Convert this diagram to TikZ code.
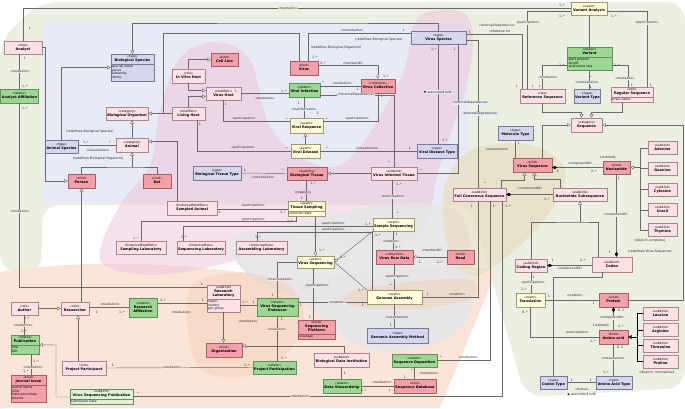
\documentclass[tikz,border=0pt]{standalone}
\usepackage{fontspec}
\setmainfont{DejaVu Sans}
\usetikzlibrary{arrows.meta,positioning,calc,shapes.multipart}
\definecolor{kindfill}{RGB}{243,160,170}
\definecolor{kinddraw}{RGB}{160,95,105}
\definecolor{rolefill}{RGB}{252,226,231}
\definecolor{roledraw}{RGB}{175,130,140}
\definecolor{relfill}{RGB}{158,214,148}
\definecolor{reldraw}{RGB}{95,145,90}
\definecolor{evfill}{RGB}{255,251,218}
\definecolor{evdraw}{RGB}{160,155,110}
\definecolor{typefill}{RGB}{214,214,238}
\definecolor{typedraw}{RGB}{120,120,155}
\definecolor{pubfill}{RGB}{226,240,216}
\definecolor{lncol}{RGB}{105,105,105}
\definecolor{bggreen}{RGB}{235,240,227}
\definecolor{bglav}{RGB}{232,234,246}
\definecolor{bgpink}{RGB}{238,196,218}
\definecolor{bggray}{RGB}{230,230,232}
\definecolor{bgpeach}{RGB}{251,229,216}
\definecolor{bgtan}{RGB}{232,222,196}
\definecolor{bgorange}{RGB}{244,205,180}
\newcommand{\st}[1]{{\fontsize{3.1}{3.7}\selectfont\textless\textless #1\textgreater\textgreater}}
\newcommand{\ttl}[1]{{\fontsize{3.5}{4}\selectfont\bfseries #1}}
\newcommand{\hd}[2]{\begin{tabular}{@{}c@{}}\st{#1}\\\ttl{#2}\end{tabular}}
\newcommand{\hdd}[3]{\begin{tabular}{@{}c@{}}\st{#1}\\\ttl{#2}\\\ttl{#3}\end{tabular}}
\newcommand{\att}[1]{{\fontsize{3.1}{3.7}\selectfont\begin{tabular}{@{}l@{}}#1\end{tabular}}}
\newcounter{lb}
\newcommand{\lab}[3][]{\stepcounter{lb}\node[lbl,#1] (lab\thelb) at (#2) {#3};}
\tikzset{
  box/.style={draw=#1, line width=0.55pt, inner sep=0.7pt, font=\fontsize{3.4}{3.9}\selectfont},
  kindbox/.style={box=kinddraw, fill=kindfill},
  rolebox/.style={box=roledraw, fill=rolefill},
  relbox/.style={box=reldraw, fill=relfill},
  evbox/.style={box=evdraw, fill=evfill},
  typebox/.style={box=typedraw, fill=typefill},
  pubbox/.style={box=reldraw, fill=pubfill},
  split/.style={rectangle split, rectangle split parts=2, rectangle split part align={center,left}, anchor=north},
  ln/.style={draw=lncol, line width=0.45pt},
  gen/.style={ln, -{Triangle[length=3.4pt, width=4pt, fill=white]}},
  comp/.style={ln, {Diamond[length=5pt, width=3.2pt, color=black]}-},
  agg/.style={ln, {Diamond[length=5pt, width=3.2pt, fill=white]}-},
  lbl/.style={font=\fontsize{3.2}{3.6}\selectfont, inner sep=0.3pt, text=black!85},
}
\begin{document}
\begin{tikzpicture}[x=1pt,y=-1pt]
\useasboundingbox (0,0) rectangle (685,408);
% background areas
\fill[bggreen, rounded corners=18pt] (0,272) -- (0,40) -- (40,2) -- (685,2) -- (685,388) -- (525,397) -- (498,300) -- (470,205) -- (42,205) -- (42,272) -- cycle;
\fill[bglav, rounded corners=5pt] (42,22) rectangle (468,203);
\fill[bgpeach] (0,408) -- (0,272) .. controls (90,258) and (200,262) .. (300,282) .. controls (380,268) and (460,262) .. (497,270) -- (440,408) -- cycle;
\fill[bgpink, opacity=0.5] plot[smooth cycle, tension=0.6] coordinates {(100,250) (120,205) (150,165) (160,110) (180,58) (215,42) (250,60) (275,135) (340,165) (400,80) (418,18) (466,15) (470,70) (440,165) (420,232) (360,244) (300,238) (230,262) (160,275) (110,268)};
\fill[bggray, opacity=0.9] plot[smooth cycle, tension=0.6] coordinates {(232,238) (300,224) (380,205) (455,210) (472,262) (468,318) (425,347) (360,346) (300,300) (248,275)};
\fill[bgtan, opacity=0.75] plot[smooth cycle, tension=0.6] coordinates {(445,185) (472,150) (530,145) (565,170) (548,215) (500,262) (468,275) (446,240)};
\fill[bgorange, opacity=0.45] plot[smooth cycle, tension=0.6] coordinates {(193,285) (240,273) (292,288) (302,330) (262,372) (205,372) (188,330)};
\fill[bgorange, opacity=0.45] plot[smooth cycle, tension=0.6] coordinates {(350,292) (410,282) (470,280) (472,298) (420,308) (352,306)};

% species and organisms
\node[rolebox, minimum width=38, minimum height=13] (analyst) at (23,47.5) {\hd{role}{Analyst}};
\node[relbox, minimum width=38, minimum height=14] (anaff) at (19.5,96) {\hd{relator}{Analyst Affiliation}};
\node[typebox, split, minimum width=43] (biospec) at (132.5,54) {\hd{type}{Biological Species}\nodepart{two}\att{species name\\genus\\subfamily\\family}};
\node[rolebox, minimum width=42, minimum height=13] (bioorg) at (127,113.5) {\hd{category}{\itshape Biological Organism}};
\node[typebox, minimum width=33, minimum height=13] (anispec) at (61.5,146.5) {\hd{type}{Animal Species}};
\node[rolebox, minimum width=32, minimum height=14] (animal) at (132,145) {\hd{category}{\itshape Animal}};
\node[kindbox, minimum width=27, minimum height=14] (person) at (81.5,181) {\hd{kind}{Person}};
\node[kindbox, minimum width=28, minimum height=14] (bat) at (157,181) {\hd{kind}{Bat}};
\node[rolebox, minimum width=50, minimum height=13] (samplab) at (141,247.5) {\hd{historicalRoleMixin}{Sampling Laboratory}};
% hosts and virus
\node[kindbox, minimum width=27, minimum height=13] (cellline) at (224.5,59.5) {\hd{kind}{Cell Line}};
\node[rolebox, minimum width=33, minimum height=14] (invitro) at (188.5,76) {\hd{role}{In Vitro Host}};
\node[rolebox, minimum width=35, minimum height=13] (virushost) at (223.5,93.5) {\hd{roleMixin}{Virus Host}};
\node[rolebox, minimum width=33, minimum height=13] (livinghost) at (188.5,113.5) {\hd{roleMixin}{Living Host}};
\node[kindbox, minimum width=28, minimum height=14] (virus) at (304,68) {\hd{kind}{Virus}};
\node[relbox, minimum width=31, minimum height=14] (viralinf) at (304.5,90) {\hd{relator}{Viral Infection}};
\node[evbox, minimum width=33, minimum height=15] (viralresp) at (306.5,125.5) {\hd{event}{Viral Response}};
\node[typebox, minimum width=55, minimum height=13] (virusspec) at (438.5,37.5) {\hd{type}{Virus Species}};
\node[kindbox, minimum width=34, minimum height=14] (viruscoll) at (378,86) {\hd{collection}{Virus Collective}};
\node[evbox, minimum width=29, minimum height=14] (viraldis) at (305.5,151) {\hd{event}{Viral Disease}};
\node[typebox, minimum width=40, minimum height=14] (vdtype) at (437,151) {\hd{type}{Viral Disease Type}};
% tissue and sequencing
\node[typebox, minimum width=48, minimum height=14] (tissuetype) at (217,173) {\hd{type}{Biological Tissue Type}};
\node[kindbox, minimum width=40, minimum height=13] (tissue) at (307,173.5) {\hd{quantity}{Biological Tissue}};
\node[rolebox, minimum width=46, minimum height=13] (vitissue) at (394,173.5) {\hd{subkind}{Virus Infected Tissue}};
\node[evbox, split, minimum width=37] (tsampling) at (306.5,201) {\hd{event}{Tissue Sampling}\nodepart{two}\att{collection date}};
\node[rolebox, minimum width=50, minimum height=14] (sampanimal) at (192,208) {\hd{historicalRoleMixin}{Sampled Animal}};
\node[rolebox, minimum width=48, minimum height=13] (seqlab) at (201,247.5) {\hd{historicalRole}{Sequencing Laboratory}};
\node[rolebox, minimum width=51, minimum height=13] (asmlab) at (261.5,247.5) {\hd{historicalRole}{Assembling Laboratory}};
\node[evbox, minimum width=41, minimum height=13] (sampseq) at (393.5,224.5) {\hd{event}{Sample Sequencing}};
\node[evbox, minimum width=37, minimum height=12] (virusseqg) at (315.5,262) {\hd{event}{Virus Sequencing}};
\node[kindbox, minimum width=37, minimum height=14] (rawdata) at (394.5,257) {\hd{collection}{Virus Raw Data}};
\node[kindbox, minimum width=27, minimum height=14] (read) at (460.5,257) {\hd{kind}{Read}};
% sequences
\node[rolebox, minimum width=53, minimum height=13] (fcs) at (479.5,194.5) {\hd{subkind}{Full Consensus Sequence}};
\node[typebox, minimum width=35, minimum height=14] (moltype) at (515.5,133) {\hd{type}{Molecule Type}};
\node[kindbox, minimum width=39, minimum height=14] (vseq) at (532.5,165) {\hd{kind}{Virus Sequence}};
\node[kindbox, minimum width=27, minimum height=13] (nucleotide) at (616.5,167.5) {\hd{kind}{Nucleotide}};
\foreach \n/\t/\y in {adenine/Adenine/148, guanine/Guanine/168.5, cytosine/Cytosine/189.5, uracil/Uracil/210, thymine/Thymine/230}
  \node[rolebox, minimum width=29, minimum height=13] (\n) at (662.5,\y) {\hd{subkind}{\t}};
\node[rolebox, minimum width=54, minimum height=13] (nsub) at (580,194.5) {\hd{subkind}{Nucleotide Subsequence}};
\node[rolebox, minimum width=32, minimum height=13] (codreg) at (531,265.5) {\hd{subkind}{Coding Region}};
\node[rolebox, minimum width=40, minimum height=15] (codon) at (612,264.5) {\hd{subkind}{Codon}};
\node[kindbox, minimum width=29, minimum height=14] (protein) at (613.5,300) {\hd{kind}{Protein}};
\node[evbox, minimum width=29, minimum height=14] (translation) at (530.5,300) {\hd{event}{Translation}};
\node[kindbox, minimum width=29, minimum height=14] (aminoacid) at (613.5,337) {\hd{kind}{Amino acid}};
\foreach \n/\t/\y in {leucine/Leucine/313.5, arginine/Arginine/330, threonine/Threonine/345.5, proline/Proline/361.5}
  \node[rolebox, minimum width=35, minimum height=13] (\n) at (660.5,\y) {\hd{subkind}{\t}};
\node[typebox, minimum width=36, minimum height=13] (aatype) at (614,382.5) {\hd{type}{Amino Acid Type}};
\node[typebox, minimum width=27, minimum height=13] (codontype) at (553.5,382.5) {\hd{type}{Codon Type}};
% variants
\node[evbox, minimum width=36, minimum height=13] (varanalysis) at (589,8.5) {\hd{event}{Variant Analysis}};
\node[relbox, split, minimum width=45] (variant) at (589.5,47) {\hd{relator}{Variant}\nodepart{two}\att{-start position\\-length\\-alternative seq}};
\node[rolebox, minimum width=45, minimum height=14] (refseq) at (542.5,96) {\hd{role}{Reference Sequence}};
\node[typebox, minimum width=25, minimum height=14] (vartype) at (587.5,96) {\hd{type}{Variant Type}};
\node[rolebox, split, minimum width=42] (regseq) at (632,87) {\hd{role}{Regular Sequence}\nodepart{two}\att{strain name}};
\node[rolebox, minimum width=31, minimum height=14] (sequence) at (586.5,125) {\hd{category}{\itshape Sequence}};
% researchers and data
\node[rolebox, minimum width=27, minimum height=13] (author) at (24.5,308.5) {\hd{role}{Author}};
\node[rolebox, minimum width=28, minimum height=13] (researcher) at (75,308.5) {\hd{role}{Researcher}};
\node[relbox, minimum width=28, minimum height=19] (resaff) at (143,307.5) {\hdd{relator}{Research}{Affiliation}};
\node[relbox, split, minimum width=28] (publication) at (25,335) {\hd{relator}{Publication}\nodepart{two}\att{Title\\DOI}};
\node[kindbox, split, minimum width=35] (journal) at (28.5,375) {\hd{kind}{Journal Issue}\nodepart{two}\att{Journal Name\\ISSN\\Publication Date\\Volume}};
\node[pubbox, split, minimum width=63] (vsp) at (101.5,389) {\hd{subkind}{Virus Sequencing Publication}\nodepart{two}\att{Submission Date}};
\node[rolebox, minimum width=44, minimum height=14] (projpart) at (84,368) {\hd{role}{Project Participant}};
\node[relbox, minimum width=43, minimum height=13] (projparticip) at (274.5,367.5) {\hd{relator}{Project Participation}};
\node[rolebox, split, minimum width=33] (reslab) at (223.5,285) {\hdd{subkind}{Research}{Laboratory}\nodepart{two}\att{region\\country\\gen group}};
\node[relbox, minimum width=41, minimum height=18] (vse) at (277.5,307) {\hdd{relator}{Virus Sequencing}{Endeavor}};
\node[kindbox, minimum width=36, minimum height=14] (organization) at (224,350) {\hd{kind}{Organization}};
\node[kindbox, split, minimum width=37] (seqplatform) at (316.5,320) {\hdd{kind}{Sequencing}{Platform}\nodepart{two}\att{coverage}};
\node[evbox, minimum width=55, minimum height=14] (genasm) at (394.5,297) {\hd{event}{Genome Assembly}};
\node[typebox, minimum width=61, minimum height=15] (genmethod) at (397.5,335.5) {\hd{type}{Genomic Assembly Method}};
\node[rolebox, minimum width=55, minimum height=14] (bdi) at (341.5,360) {\hd{subkind}{Biological Data Institution}};
\node[relbox, minimum width=38, minimum height=14] (datastew) at (342,386) {\hd{relator}{Data Stewardship}};
\node[relbox, minimum width=45, minimum height=13] (seqdep) at (414.5,360.5) {\hd{relator}{Sequence Deposition}};
\node[kindbox, minimum width=42, minimum height=14] (seqdb) at (415,386) {\hd{kind}{Sequence Database}};

% analyst
\draw[ln] (analyst.north) |- (varanalysis.west);
\lab[fill=bggreen]{288,8.5}{\st{mediation}} \lab{30,28}{1} \lab{562,5}{1..*}
\draw[ln] (analyst.south -| anaff.north) -- (anaff.north);
\lab{25,58}{1} \lab[fill=bggreen]{20,71}{\st{mediation}} \lab{25,86}{1..*}
\draw[ln] (anaff.south) |- (reslab.west |- 0,287);
\lab{25,108}{1..*} \lab[fill=bggreen]{20,211}{\st{mediation}} \lab{202,284}{1}
\draw[gen] (analyst.east) -- ++(3,0) |- (person.west);
% organisms
\draw[gen] (anispec.north) |- (biospec.west);
\lab{90,132}{(redefines Biological Species)}
\draw[ln] (animal.west -| anispec.east) -- (animal.west);
\lab{86,142}{1..*} \lab{110,142}{*} \lab{98,150.5}{\st{instantiation}}
\draw[gen] (animal.north) -- (animal.north |- bioorg.south);
\lab{98,159}{(redefines Biological Organism)}
\coordinate (anij) at (animal.south |- 0,167);
\draw[ln] (person.north) |- (anij) -| (bat.north);
\draw[gen] (anij) -- (animal.south);
\draw[gen] ($(sampanimal.north)+(-15,0)$) |- ($(animal.east)+(0,-3.5)$);
\draw[gen] ($(virus.north)+(-5,0)$) |- (163,33) |- (bioorg.east);
\draw[ln] (livinghost.west) -- (livinghost.west -| 163,0);
\draw[gen] (virusspec.north) |- (300,23) -| (biospec.north);
\draw[ln] ($(virus.north)+(4,0)$) |- ($(virusspec.west)+(0,-4)$);
\lab{352,30}{\st{instantiation}} \lab{404,30}{1} \lab{315,57}{1..*}
\lab{336,48}{(redefines Biological Organism)} \lab{379,40}{(redefines Biological Species)}
% hosts
\draw[gen] (invitro.north) |- (cellline.west);
\draw[gen] (invitro.south) |- ($(virushost.west)+(0,-3)$);
\draw[gen] (livinghost.north) |- ($(virushost.west)+(0,3)$);
\draw[ln] (virushost.east) -- (virushost.east -| viralinf.west);
\lab{236,91}{1} \lab{284,91}{1..*} \lab{265,98.5}{\st{mediation}}
\draw[ln] (virushost.south) |- ($(viralresp.west)+(0,-4)$);
\lab{226,104}{1} \lab{244,119}{\st{participation}} \lab{287,119}{*}
\draw[ln] (viralinf.south) -- (viralinf.south |- viralresp.north);
\lab{299,103}{1} \lab[fill=bglav]{304,109}{\st{manifestation}} \lab{318,113}{1}
\draw[gen] (viraldis.north) -- (viraldis.north |- viralresp.south);
\draw[ln] (viruscoll.west -| viralinf.east) -- (viruscoll.west);
\lab{323,82}{*} \lab{342,83}{\st{mediation}} \lab{358,89}{1}
\draw[agg] (viruscoll.north) |- ($(virus.east)+(0,-3)$);
\lab{323,63}{2..*} \lab{353,63}{\st{memberOf}} \lab{386,76}{1..*}
\draw[ln] ($(viralinf.east)+(0,5)$) -| (vitissue.north);
\lab[fill=bglav]{356,95}{\st{historicalDependence}} \lab{389,162}{*}
\draw[ln] (viruscoll.south) |- ($(viralresp.east)+(0,-4)$);
\lab{382,96}{1} \lab{357,118.5}{\st{participation}} \lab{327,119}{*}
\draw[ln] ($(livinghost.south)+(8.5,0)$) |- (viraldis.west);
\lab{200,124}{1} \lab{243,148}{\st{participation}} \lab{287,148}{*}
% tissue
\draw[ln] (tissuetype.east) -- (tissue.west);
\lab{245,170}{1} \lab{283,170}{*} \lab{263,177}{\st{instantiation}}
\draw[gen] (vitissue.west) -- (tissue.east);
\draw[ln] (viraldis.east) -- (vdtype.west);
\lab{327,148}{*} \lab{367,148}{\st{instantiation}} \lab{410,148}{1}
\draw[ln] (virusspec.south) -- (virusspec.south |- vdtype.north);
\lab{434,49}{1..*} \lab{445,140}{1..*} \lab[fill=bglav]{438,92}{▼ associated with}
\draw[ln] ($(virusspec.south)+(20,0)$) |- (vitissue.east);
\lab{455,49}{1} \lab{421,170}{*}
\draw[ln] ($(virusspec.east)+(0,-3)$) -| ($(refseq.north)+(-20.5,0)$);
\lab{470,32}{1} \lab{497,26}{\st{externalDependence}} \lab{500,31}{reference for} \lab{517,86}{1}
\draw[ln] ($(virusspec.east)+(0,3)$) -| ($(fcs.north)+(-1.5,0)$);
\lab[fill=bglav]{470,103}{\st{externalDependence}} \lab[fill=bglav]{480,114}{\st{externalDependence}} \lab{485,183}{*}
% sequences
\draw[ln] (moltype.south) -- (moltype.south |- vseq.north);
\lab{519,143}{1} \lab{497,149}{\st{instantiation}}
\draw[gen] ($(vseq.north)+(10,0)$) |- (sequence.west);
\draw[gen] (protein.east) -| (683,125) -- (sequence.east);
\draw[gen] (refseq.south) |- ($(sequence.north)+(-5,-6)$) -- ($(sequence.north)+(-5,0)$);
\draw[gen] ($(regseq.south)+(-10,0)$) |- ($(sequence.north)+(5,-6)$) -- ($(sequence.north)+(5,0)$);
\draw[ln] (varanalysis.south) -- (varanalysis.south |- variant.north);
\draw[ln] ($(varanalysis.west)+(0,3)$) -| ($(refseq.north)+(-15,0)$);
\lab{562,16}{1..*} \lab[fill=bggreen]{528,23}{\st{participation}} \lab{533,86}{1}
\draw[ln] ($(varanalysis.east)+(0,3)$) -| ($(regseq.north)+(15,0)$);
\lab{614,16}{1..*} \lab[fill=bggreen]{647,23}{\st{participation}} \lab{651,85}{1}
\draw[ln] ($(variant.west)+(0,7)$) -| (refseq.north);
\lab{562,65}{1..*} \lab[fill=bggreen]{548,77}{\st{mediation}} \lab{540,86}{1}
\draw[ln] ($(variant.east)+(0,7)$) -| ($(regseq.north)+(-4,0)$);
\lab{617,65}{1..*} \lab[fill=bggreen]{625,78}{\st{mediation}} \lab{632,85}{1}
\draw[ln] (variant.south) -- (variant.south |- vartype.north);
\lab{591,77}{*} \lab[fill=bggreen]{587,82}{\st{instantiation}} \lab{591,87}{1}
\draw[comp] (nucleotide.west -| vseq.east) -- (nucleotide.west);
\lab{558,171}{1} \lab{580,164}{\st{componentOf}} \lab{594,171}{2..*} \lab{608,157.5}{\{ordered\}}
\coordinate (nucj) at (640,167.5);
\draw[gen] (nucj) -- (nucleotide.east);
\draw[ln] (adenine.west) -| (nucj |- thymine.west) -- (thymine.west);
\foreach \n in {guanine,cytosine,uracil} \draw[ln] (\n.west) -- (\n.west -| nucj);
\lab{650,241}{\{disjoint,complete\}}
\draw[gen] ($(fcs.north east)+(-5,0)$) |- ($(vseq.south)+(-8,8)$) -- ($(vseq.south)+(-8,0)$);
\draw[gen] ($(nsub.north)+(-20,0)$) |- ($(vseq.south)+(2,7)$) -- ($(vseq.south)+(2,0)$);
\draw[comp] (fcs.east) -- (nsub.west);
\lab{530,189}{\st{componentOf}} \lab{547,199}{1..*}
\draw[comp] (nucleotide.south |- codon.north) -- (nucleotide.south);
\lab{619,178}{1} \lab[fill=bggreen]{616,215}{\st{componentOf}} \lab{610,252}{1} \lab{650,252}{(redefines Virus Sequence)}
\coordinate (nsj) at (nsub.south |- 0,222);
\draw[gen] (nsj) -- (nsub.south);
\draw[ln] (codreg.north) |- (nsj) -| ($(codon.north)+(-14,0)$);
\draw[comp] (codreg.east) -- (codreg.east -| codon.west);
\lab{553,260}{1} \lab{583,260}{2..*} \lab{570,269}{\st{componentOf}}
\draw[ln] (codreg.south) -- (codreg.south |- translation.north);
\lab{534,277}{1} \lab[fill=bggreen]{533,283}{\st{participation}} \lab{524,289}{1..*}
\draw[ln] (translation.east) -- (protein.west);
\lab{549,296}{1} \lab{575,295}{\st{creation}} \lab{594,303}{1}
\draw[comp] (protein.south) -- (aminoacid.north);
\lab{621,310}{0..1} \lab[fill=bggreen]{612,318}{\st{componentOf}} \lab{601,326}{\{ordered\}} \lab{621,326}{2..*}
\draw[ln] (translation.south) |- (aminoacid.west);
\lab{525,312}{0..*} \lab{577,333}{\st{participation}} \lab{593,341}{1..*}
\coordinate (aaj) at (637,337);
\draw[gen, draw=black, line width=0.9pt] (aaj) -- (aminoacid.east);
\draw[ln, draw=black, line width=0.6pt] (leucine.west) -| (aaj |- proline.west) -- (proline.west);
\foreach \n in {arginine,threonine} \draw[ln, draw=black, line width=0.6pt] (\n.west) -- (\n.west -| aaj);
\lab{657,373}{\{disjoint, incomplete\}}
\draw[ln] (aminoacid.south) -- (aminoacid.south |- aatype.north);
\lab{620,347}{0..1} \lab[fill=bggreen]{613,358}{\st{instantiation}} \lab{606,372}{1..*}
\draw[ln] (codontype.east) -- (aatype.west);
\lab{572,380}{1} \lab{591,380}{1} \lab{582,389}{\st{formal}} \lab{582,394}{▶ associated with}
\draw[ln] ($(codon.south)+(-10,0)$) -- ++(0,5) -| (codontype.north);
% researchers
\draw[gen] (author.east) -- (researcher.west);
\draw[gen] (person.south |- researcher.north) -- (person.south);
\draw[ln] (resaff.west -| researcher.east) -- (resaff.west);
\lab{97,312}{1} \lab{110,304.5}{\st{mediation}} \lab{122,312}{1..*}
\draw[ln] (resaff.east |- 0,303) -- (reslab.west |- 0,303);
\lab{163,300}{1..*} \lab{203,300}{1} \lab{181,312}{\st{mediation}}
\draw[ln] (author.south) -- (author.south |- publication.north);
\lab{27,318}{1..*} \lab[fill=bgpeach]{23,325}{\st{mediation}} \lab{24,331}{1..*}
\draw[ln] ($(publication.south)+(6,0)$) -- ($(publication.south |- journal.north)+(6,0)$);
\lab{36,361}{1..*} \lab[fill=bgpeach]{33,367}{\st{mediation}} \lab{26,371}{1..*}
\draw[gen] (vsp.west) -| (56,345) -- (publication.east);
\draw[gen] (projpart.north -| 78,0) -- (researcher.south -| 78,0);
\draw[ln] (projpart.east) -- (projparticip.west);
\lab{113,365}{1} \lab[fill=bgpeach]{172,367.5}{\st{mediation}} \lab{247,365}{1..*}
\draw[ln] ($(vsp.east)+(0,-1)$) -| ($(fcs.south)+(22.5,0)$);
\lab{138,393}{*} \lab[fill=bgpeach]{300,396.5}{\st{mediation}} \lab{508,206}{1..*}
\draw[ln] (seqdep.east) -| ($(fcs.south)+(10.5,0)$);
\lab{441,357}{*} \lab{468,357}{\st{mediation}} \lab{494,206}{1}
\draw[ln] (genasm.east) -| ($(fcs.south)+(-1.5,0)$);
\lab{428,294}{1} \lab{457,294}{\st{creation}} \lab{472,206}{1}
\draw[ln] (reslab.east |- 0,305) -- (vse.west |- 0,305);
\lab{245,302}{1..*} \lab{253.5,302}{1} \lab{248,321}{\st{mediation}}
\draw[gen] (reslab.south) -- (reslab.south |- organization.north);
\draw[gen] ($(bdi.north)+(3,0)$) |- ($(organization.east)+(0,-4)$);
\draw[ln] (vse.south) -- (vse.south |- projparticip.north);
\lab{282,319}{1} \lab[fill=bgpeach]{277,329}{\st{mediation}} \lab{284,358}{1..*}
\draw[ln] (vse.north) |- (virusseqg.west);
\lab{273,295}{1} \lab[fill=bgpeach]{280,279}{\st{manifestation}}
\draw[ln] (seqplatform.north -| 313,0) -- (virusseqg.south -| 313,0);
\lab{310,317}{1} \lab[fill=bggray]{317,286}{\st{participation}}
\draw[ln] (vse.east |- 0,302) -- (genasm.west |- 0,302);
\lab{301,305}{1} \lab[fill=bggray]{337,302}{\st{creation}} \lab{363,305}{1}
% sequencing
\draw[agg] (virusseqg.north) -- (virusseqg.north |- tsampling.south);
\lab{322,250}{1..*}
\draw[agg] (virusseqg.east) -- (sampseq.south west);
\draw[ln] (virusseqg.east) -- (genasm.north west);
\lab{343,257}{1..*} \lab{361,290}{1..*}
\draw[ln] (tsampling.north) -- (tsampling.north |- tissue.south);
\lab{313,183}{1..*} \lab[fill=bgpink]{303,192}{\st{creation}} \lab{302,198}{1}
\draw[ln] (tsampling.west -| sampanimal.east) -- (tsampling.west);
\lab{220,212}{1} \lab{253,206}{\st{participation}} \lab{283,212}{1..*}
\draw[ln] (samplab.north) |- ($(tsampling.south)+(-10,4)$) -- ($(tsampling.south)+(-10,0)$);
\lab{136,238}{1..*} \lab{253,220}{\st{participation}} \lab{290,221}{1..*}
\draw[ln] ($(seqlab.north)+(-18,0)$) |- ($(sampseq.west)+(0,2)$);
\lab{184,237}{1..*} \lab{333,224}{\st{participation}} \lab{368,224}{1..*}
\draw[ln] ($(asmlab.north)+(-4,0)$) |- ($(genasm.north west)+(5,-58)$) -- ($(genasm.north west)+(5,0)$);
\lab{258,237}{1..*} \lab{333,230}{\st{participation}} \lab{378,235}{1..*}
\draw[ln] (vitissue.south -| 392,0) -- (sampseq.north -| 392,0);
\lab{399,184}{1..*} \lab[fill=bggray]{393,197}{\st{participation}} \lab{398,213}{*}
\draw[ln] (sampseq.south) -- (sampseq.south |- rawdata.north);
\lab{397,234}{1} \lab[fill=bggray]{391,241}{\st{creation}} \lab{398,247}{1..*}
\draw[agg] (rawdata.east) -- (read.west);
\lab{432,250}{\st{memberOf}} \lab{420,262}{1} \lab{440,262}{2..*}
\draw[ln] (rawdata.south) -- (rawdata.south |- genasm.north);
\lab[fill=bggray]{397,277}{\st{participation}} \lab{391,285}{*}
\draw[ln] (genasm.south) -- (genasm.south |- genmethod.north);
\lab[fill=bggray]{397,317}{\st{instantiation}} \lab{391,325}{1}
\draw[ln] (bdi.south) -- (bdi.south |- datastew.north);
\lab{345,373}{1}
\draw[ln] (datastew.east) -- (seqdb.west);
\lab{382,382}{\st{mediation}} \lab{364,390}{1..*} \lab{390,390}{1}
\draw[ln] (seqdep.south) -- (seqdep.south |- seqdb.north);
\lab{412,370}{*} \lab{429,373}{\st{mediation}} \lab{405,377}{1}
\end{tikzpicture}
\end{document}
